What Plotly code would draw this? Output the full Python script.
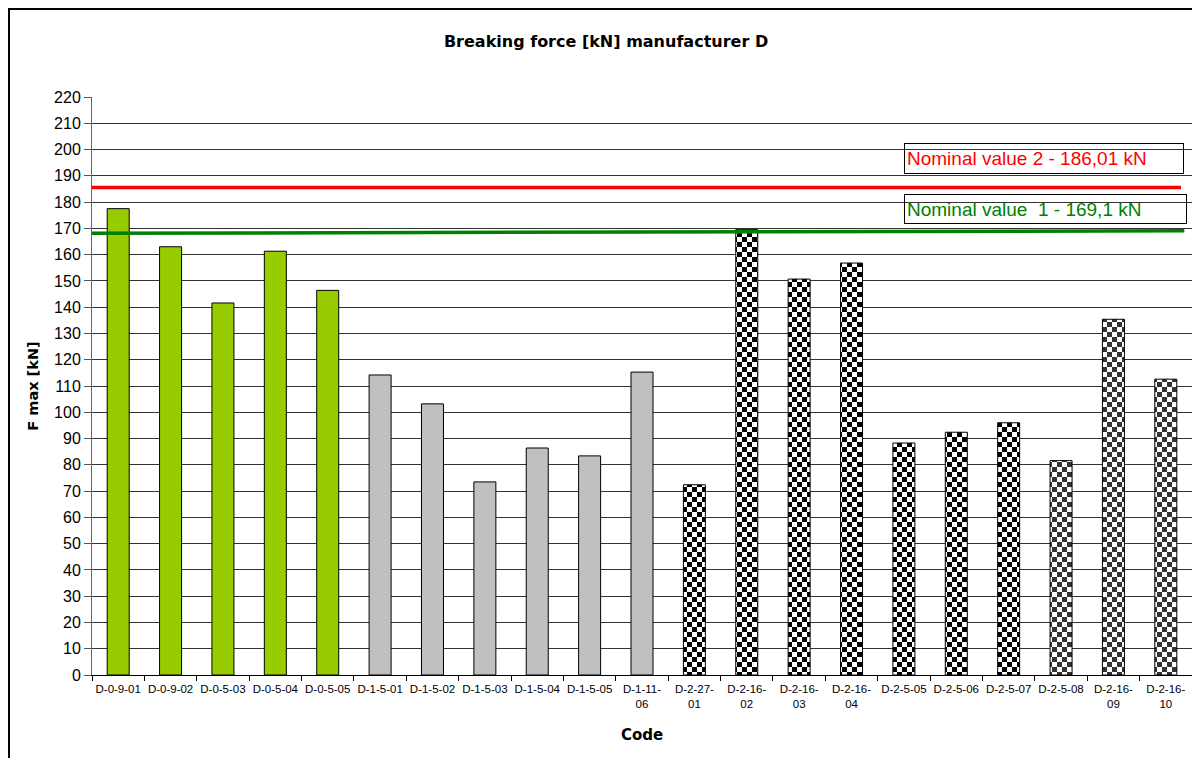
import plotly.graph_objects as go

codes = ["D-0-9-01", "D-0-9-02", "D-0-5-03", "D-0-5-04", "D-0-5-05",
         "D-1-5-01", "D-1-5-02", "D-1-5-03", "D-1-5-04", "D-1-5-05", "D-1-11-06",
         "D-2-27-01", "D-2-16-02", "D-2-16-03", "D-2-16-04", "D-2-5-05", "D-2-5-06", "D-2-5-07",
         "D-2-5-08", "D-2-16-09", "D-2-16-10"]
tick_labels = ["D-0-9-01", "D-0-9-02", "D-0-5-03", "D-0-5-04", "D-0-5-05",
               "D-1-5-01", "D-1-5-02", "D-1-5-03", "D-1-5-04", "D-1-5-05", "D-1-11-<br>06",
               "D-2-27-<br>01", "D-2-16-<br>02", "D-2-16-<br>03", "D-2-16-<br>04", "D-2-5-05", "D-2-5-06", "D-2-5-07",
               "D-2-5-08", "D-2-16-<br>09", "D-2-16-<br>10"]
fmax = [177.5, 163.0, 141.6, 161.3, 146.4,
        114.2, 103.2, 73.5, 86.4, 83.4, 115.3,
        72.4, 169.5, 150.7, 156.8, 88.3, 92.4, 96.0,
        81.6, 135.4, 112.6]
group_sizes = [5, 6, 7, 3]
nominal2 = [185.6, 185.6]   # red line (left, right)
nominal1 = [168.1, 169.1]   # green line (left, right)
nominal2_text = "Nominal value 2 - 186,01 kN"
nominal1_text = "Nominal value \u00a01 - 169,1 kN"

FONT = "Liberation Sans, Arial, sans-serif"
BOLD_FONT = "DejaVu Sans, Verdana, sans-serif"


def checker(fg):
    base = dict(fgcolor=fg, bgcolor="white", size=10, fillmode="replace")
    try:
        return go.bar.marker.Pattern(path="M0,0H5V5H0ZM5,5H10V10H5Z", **base)
    except Exception:
        return go.bar.marker.Pattern(shape="+", solidity=0.45, **base)


fig = go.Figure()

styles = [
    dict(color="#99CC00", pattern=None),
    dict(color="#C0C0C0", pattern=None),
    dict(color="white", pattern=checker("#000000")),
    dict(color="white", pattern=checker("#333333")),
]
start = 0
for n, st in zip(group_sizes, styles):
    xs = codes[start:start + n]
    ys = fmax[start:start + n]
    marker = dict(color=st["color"], line=dict(color="#000000", width=1))
    if st["pattern"] is not None:
        marker["pattern"] = st["pattern"]
    fig.add_trace(go.Bar(x=xs, y=ys, marker=marker, width=0.42, showlegend=False))
    start += n

fig.add_trace(go.Scatter(x=[0, 0.990], y=nominal2, mode="lines", xaxis="x2",
                         line=dict(color="#FF0000", width=3.5), showlegend=False))
fig.add_trace(go.Scatter(x=[0, 0.993], y=nominal1, mode="lines", xaxis="x2",
                         line=dict(color="#008000", width=3.5), showlegend=False))

fig.update_layout(
    width=1192, height=750,
    margin=dict(l=84, r=8, t=89, b=83),
    paper_bgcolor="white", plot_bgcolor="white",
    barmode="overlay",
    font=dict(family=FONT, color="#000000"),
    title=dict(text="<b>Breaking force [kN] manufacturer D</b>", x=0.5017, xanchor="center",
               y=0.956, yanchor="middle", font=dict(size=16, family=BOLD_FONT, color="#000")),
    xaxis=dict(
        type="category", categoryorder="array", categoryarray=codes,
        tickmode="array", tickvals=codes, ticktext=tick_labels,
        tickfont=dict(size=11.5, family=FONT), tickangle=0,
        ticks="outside", tickson="boundaries", ticklen=5, tickcolor="#000",
        ticklabelstandoff=3,
        showline=True, linecolor="#000", linewidth=1, mirror=False,
        showgrid=False, range=[-0.5, 20.5],
        title=dict(text="<b>Code</b>", font=dict(size=15, family=BOLD_FONT), standoff=20),
    ),
    xaxis2=dict(overlaying="x", range=[0, 1], visible=False, fixedrange=True),
    yaxis=dict(
        range=[0, 220], dtick=10, tick0=0,
        tickfont=dict(size=16, family=FONT),
        ticks="outside", ticklen=7, tickcolor="#555",
        showline=True, linecolor="#666", linewidth=1, mirror=True,
        showgrid=True, gridcolor="#333333", gridwidth=1,
        zeroline=False,
        title=dict(text="<b>F max [kN]</b>", font=dict(size=14.5, family=BOLD_FONT), standoff=12),
    ),
    shapes=[
        dict(type="rect", xref="paper", yref="paper", x0=-0.07545, x1=1.02, y0=-0.2, y1=1.1522,
             line=dict(color="#000000", width=2), fillcolor="rgba(0,0,0,0)", layer="above"),
    ],
    annotations=[
        dict(text=nominal2_text, xref="paper", yref="paper", x=0.7382, y=0.9204,
             xanchor="left", yanchor="top", showarrow=False, align="left",
             width=274, height=25, borderpad=2, bordercolor="#000", borderwidth=1,
             bgcolor="rgba(255,255,255,0)",
             font=dict(size=19, color="#FF0000", family=FONT)),
        dict(text=nominal1_text, xref="paper", yref="paper", x=0.7382, y=0.8322,
             xanchor="left", yanchor="top", showarrow=False, align="left",
             width=277, height=24, borderpad=2, bordercolor="#000", borderwidth=1,
             bgcolor="rgba(255,255,255,0)",
             font=dict(size=19, color="#008000", family=FONT)),
    ],
)

fig.write_html("out.html")
